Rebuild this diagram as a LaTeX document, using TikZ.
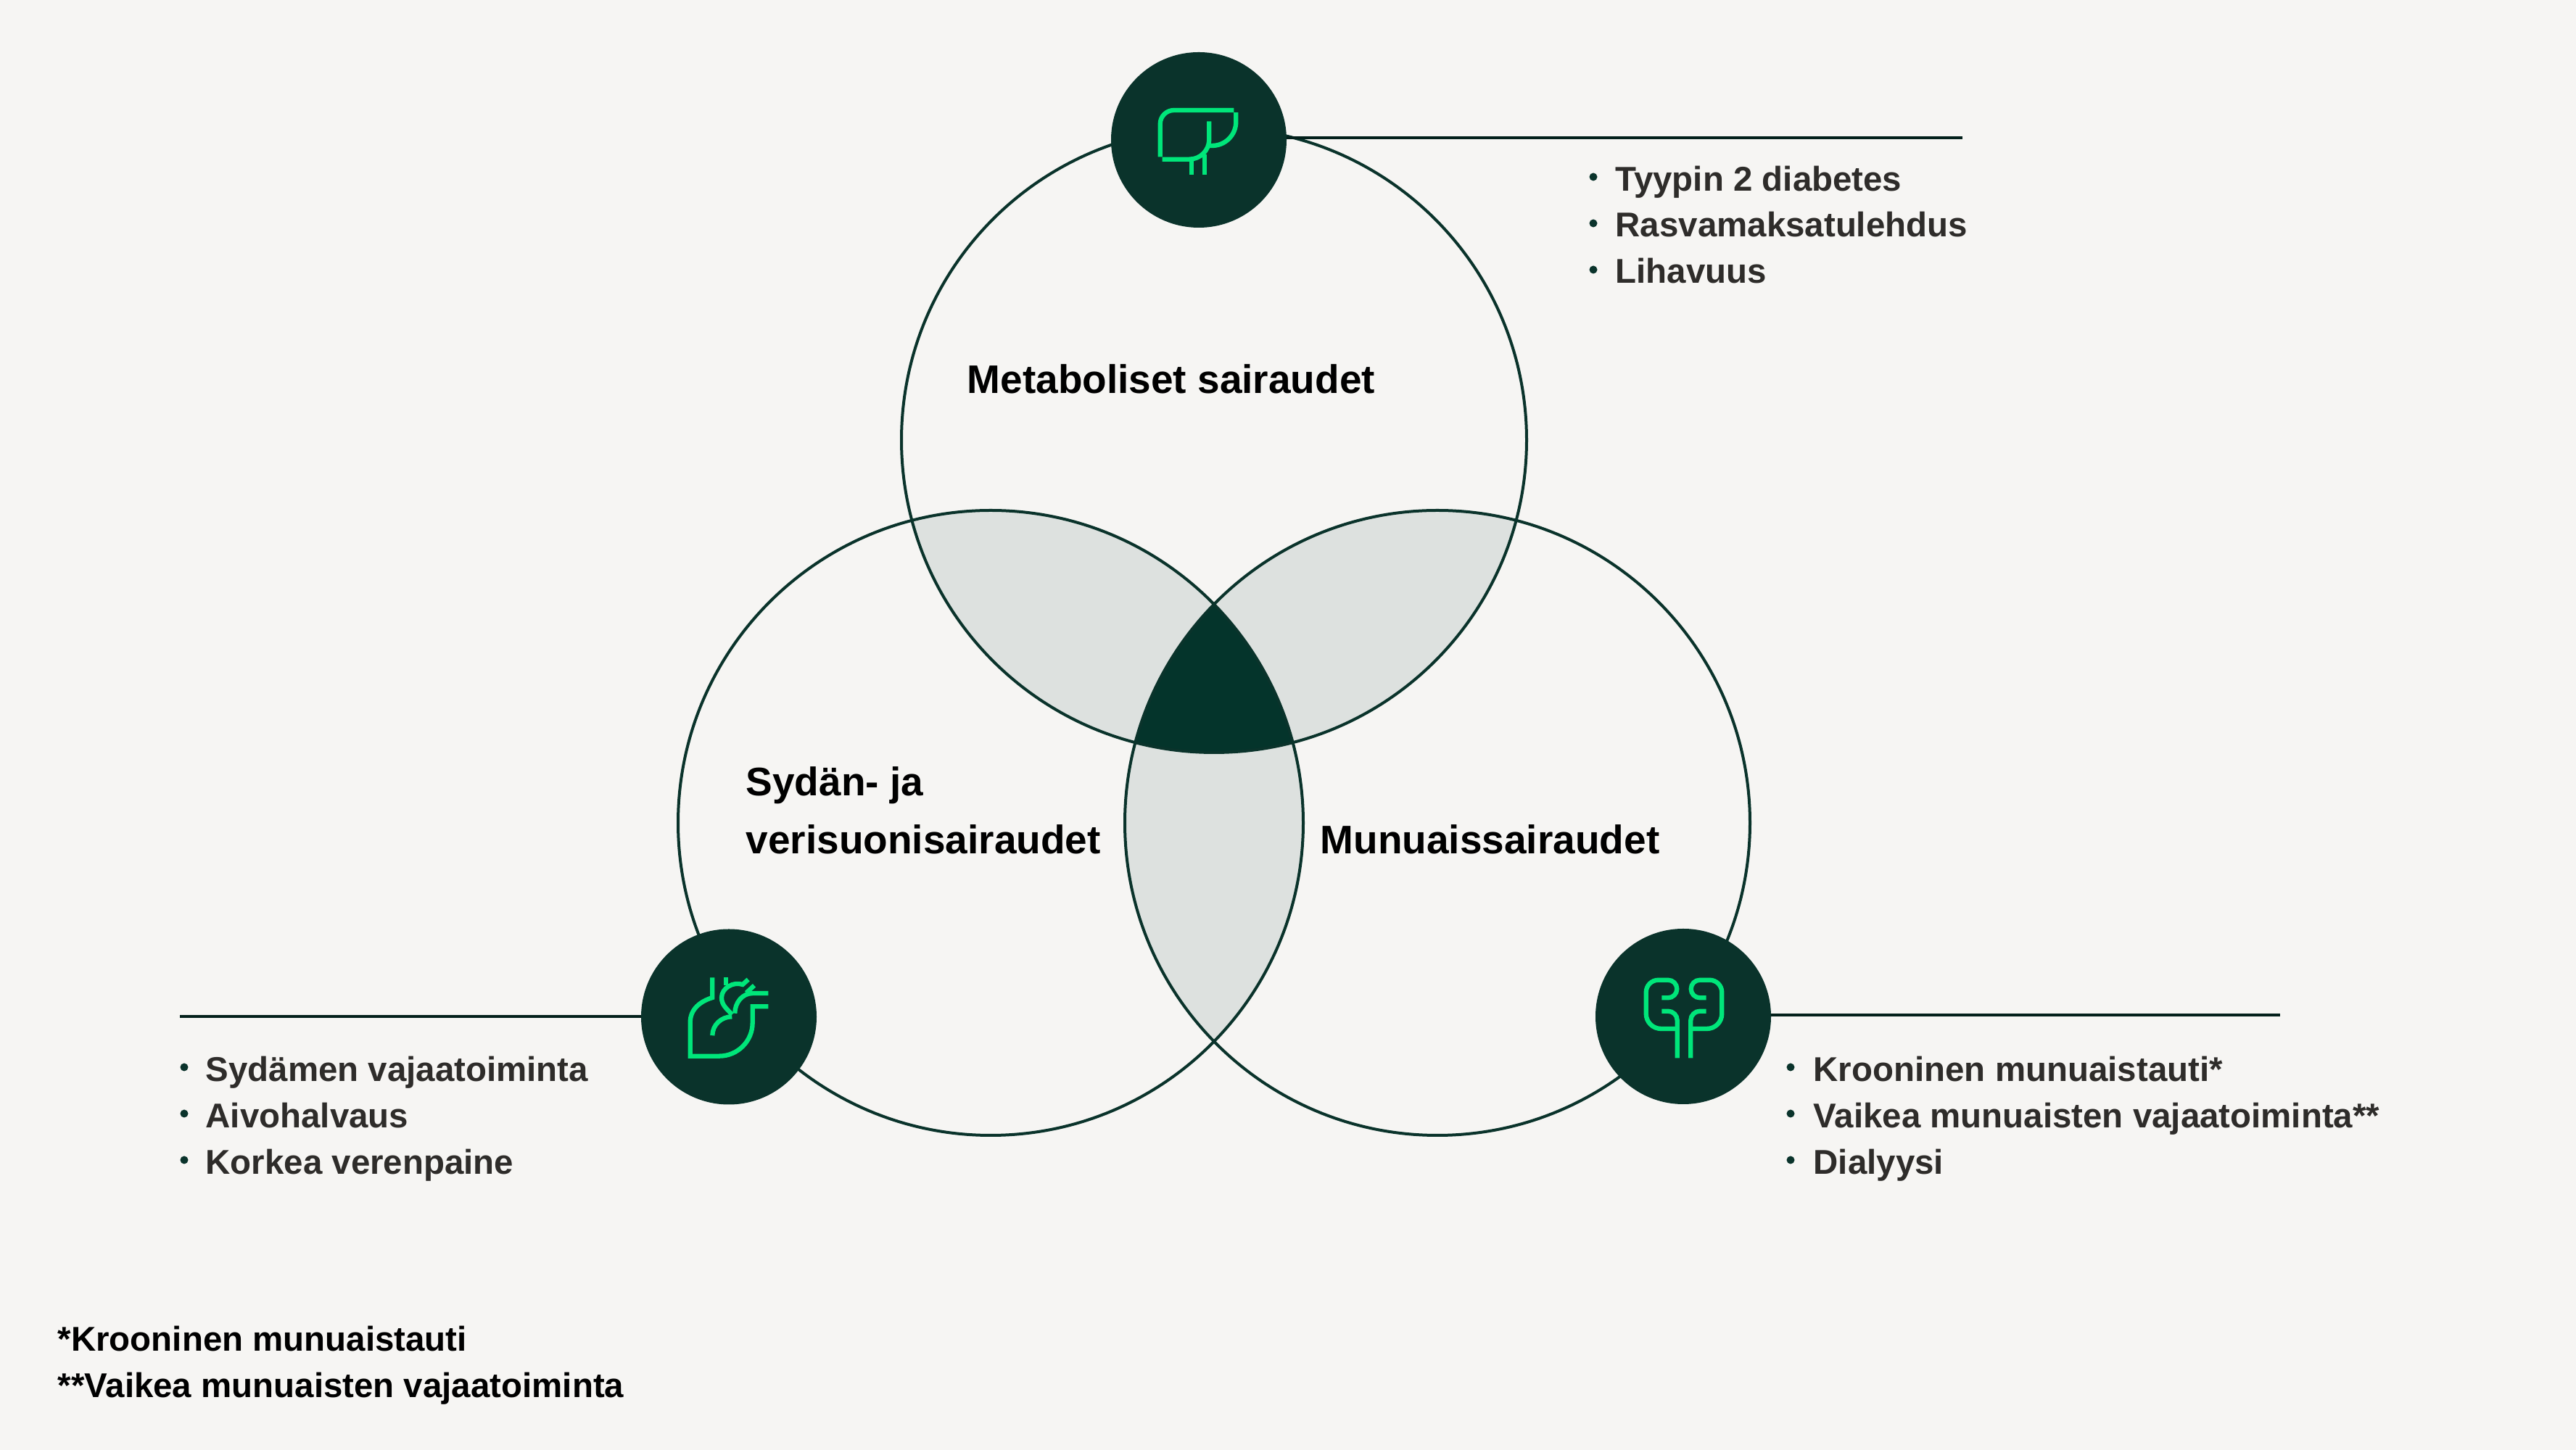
\documentclass[tikz,border=0pt]{standalone}
\usepackage{fontspec}
\setmainfont{Liberation Sans}
\usetikzlibrary{calc}

\definecolor{paper}{HTML}{F6F5F3}
\definecolor{forest}{HTML}{0A332B}
\definecolor{deep}{HTML}{04342B}
\definecolor{rule}{HTML}{03201B}
\definecolor{lens}{HTML}{DDE1DF}
\definecolor{mint}{HTML}{00E67A}
\definecolor{ink}{HTML}{2E2C2A}

\tikzset{
  vennring/.style={circle,draw=forest,line width=0.04cm,minimum size=8.62cm,inner sep=0pt,outer sep=0pt},
  icondisc/.style={circle,fill=forest,minimum size=2.42cm,inner sep=0pt,outer sep=0pt},
  leader/.style={draw=rule,line width=0.04cm},
  iconline/.style={draw=mint,line width=0.063cm},
  iconunits/.style={x=0.01cm,y=0.01cm},
  heading/.style={font=\fontsize{15.65pt}{18pt}\selectfont\bfseries,text=black,anchor=base west,inner sep=0pt},
  listitem/.style={font=\fontsize{13.5pt}{16pt}\selectfont\bfseries,text=ink,anchor=base west,inner sep=0pt},
  footnote/.style={font=\fontsize{13.5pt}{16pt}\selectfont\bfseries,text=black,anchor=base west,inner sep=0pt},
  listdot/.style={circle,fill=forest,minimum size=0.11cm,inner sep=0pt}
}

\begin{document}
\begin{tikzpicture}
\useasboundingbox[fill=paper] (0,0) rectangle (35.52,20);

% Centres of the three large circles
\coordinate (metacentre) at (16.74,13.93);
\coordinate (heartcentre) at (13.66,8.65);
\coordinate (kidneycentre) at (19.82,8.65);

% Overlaps of two circles
\begin{scope}
\clip (metacentre) circle (4.31);
\fill[lens] (heartcentre) circle (4.31);
\fill[lens] (kidneycentre) circle (4.31);
\end{scope}
\begin{scope}
\clip (heartcentre) circle (4.31);
\fill[lens] (kidneycentre) circle (4.31);
\end{scope}

% Overlap of all three
\begin{scope}
\clip (metacentre) circle (4.31);
\clip (heartcentre) circle (4.31);
\fill[deep] (kidneycentre) circle (4.31);
\end{scope}

% Large circles
\node[vennring] (metaring) at (metacentre) {};
\node[vennring] (heartring) at (heartcentre) {};
\node[vennring] (kidneyring) at (kidneycentre) {};

% Icon discs
\node[icondisc] (liver) at (16.53,18.07) {};
\node[icondisc] (heart) at (10.05,5.975) {};
\node[icondisc] (kidney) at (23.21,5.98) {};

% Leader lines
\coordinate (metaend) at (27.06,18.10);
\coordinate (heartend) at (2.48,5.98);
\coordinate (kidneyend) at (31.44,6.00);
\draw[leader] (metaend -| liver.east) -- (metaend);
\draw[leader] (heartend -| heart.west) -- (heartend);
\draw[leader] (kidneyend -| kidney.east) -- (kidneyend);

% Liver icon
\begin{scope}[shift={(liver)},iconunits]
\draw[iconline] (-53.3,-23.3) -- (-53.3,22) arc[start angle=180,end angle=90,radius=19] -- (48.3,41);
\draw[iconline] (51.3,38) -- (51.3,25) arc[start angle=0,end angle=-90,radius=33] -- (13.7,-8);
\draw[iconline] (-50.3,-26.7) -- (-13,-26.7) arc[start angle=270,end angle=360,radius=27.3] -- (14.3,25.7);
\draw[iconline] (-10.3,-26.7) -- (-10.3,-48.3);
\draw[iconline] (8,-20.3) -- (8,-48.3);
\end{scope}

% Heart icon
\begin{scope}[shift={(heart)},iconunits]
\draw[iconline] (-22.7,54.2) -- (-22.7,26.5) to[out=197,in=90] (-53.3,-7.5) -- (-53.3,-54.2) -- (-13.3,-54.2) arc[start angle=270,end angle=360,radius=46] -- (32.7,14.2) -- (54.3,14.2);
\draw[iconline] (-4.3,54.2) -- (-4.3,43.2);
\draw[iconline] (26.7,51.5) -- (19,44.5) to[out=160,in=90] (-10,26.5) to[out=270,in=130] (4.3,3);
\draw[iconline] (4.3,0.2) to[out=180,in=90] (-22.7,-25.8);
\draw[iconline] (8.3,4.8) to[out=90,in=180] (33,32.5) -- (54.3,32.5);
\draw[iconline] (35,43.2) -- (24,33);
\end{scope}

% Kidney icon
\foreach \side in {1,-1} {
\begin{scope}[shift={(kidney)},shift={(0.01,0)},iconunits,xscale=\side]
\draw[iconline] (-30.7,25.7) -- (-22,25.7) arc[start angle=-90,end angle=90,radius=12.3] -- (-35.3,50.3) arc[start angle=90,end angle=180,radius=17] -- (-52.3,3.7) arc[start angle=180,end angle=270,radius=20.7] -- (-9.3,-17);
\draw[iconline] (-30.7,7.3) -- (-22,7.3) arc[start angle=90,end angle=0,radius=12.7] -- (-9.3,-57.3);
\end{scope}
}

% Circle titles
\node[heading] (metatitle) at (13.33,14.57) {Metaboliset sairaudet};
\node[heading] (hearttitlea) at (10.28,9.02) {Sydän- ja};
\node[heading] (hearttitleb) at (10.28,8.22) {verisuonisairaudet};
\node[heading] (kidneytitle) at (18.20,8.22) {Munuaissairaudet};

% Metabolic list
\node[listdot] (metadota) at (21.97,17.56) {};
\node[listdot] (metadotb) at (21.97,16.92) {};
\node[listdot] (metadotc) at (21.97,16.28) {};
\node[listitem] (metaitema) at (22.27,17.36) {Tyypin 2 diabetes};
\node[listitem] (metaitemb) at (22.27,16.73) {Rasvamaksatulehdus};
\node[listitem] (metaitemc) at (22.27,16.09) {Lihavuus};

% Heart list
\node[listdot] (heartdota) at (2.54,5.28) {};
\node[listdot] (heartdotb) at (2.54,4.64) {};
\node[listdot] (heartdotc) at (2.54,4.00) {};
\node[listitem] (heartitema) at (2.83,5.08) {Sydämen vajaatoiminta};
\node[listitem] (heartitemb) at (2.83,4.44) {Aivohalvaus};
\node[listitem] (heartitemc) at (2.83,3.80) {Korkea verenpaine};

% Kidney list
\node[listdot] (kidneydota) at (24.69,5.28) {};
\node[listdot] (kidneydotb) at (24.69,4.64) {};
\node[listdot] (kidneydotc) at (24.69,4.00) {};
\node[listitem] (kidneyitema) at (25.00,5.08) {Krooninen munuaistauti*};
\node[listitem] (kidneyitemb) at (25.00,4.44) {Vaikea munuaisten vajaatoiminta**};
\node[listitem] (kidneyitemc) at (25.00,3.80) {Dialyysi};

% Footnotes
\node[footnote] (notea) at (0.79,1.36) {*Krooninen munuaistauti};
\node[footnote] (noteb) at (0.79,0.72) {**Vaikea munuaisten vajaatoiminta};
\end{tikzpicture}
\end{document}
